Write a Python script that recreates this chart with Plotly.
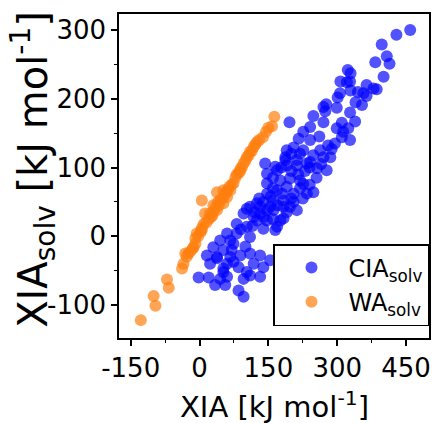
import plotly.graph_objects as go

# CIA_solv series (x = XIA, y = XIA_solv), kJ/mol
cia_x = [459, 429, 397, 408, 383, 414, 401, 323, 329, 307, 328, 321, 364, 379, 386, 306, 329, 357, 364, 301,
         354, 299, 270, 276, 274, 328, 248, 270, 196, 339, 241, 226, 299, 324, 313, 310, 328, 216, 241, 261,
         280, 288, 263, 248, 226, 190, 205, 187, 212, 241, 270, 256, 277, 143, 165, 219, 187, 147, 169, 190,
         212, 234, 176, 197, 219, 226, 147, 169, 190, 219, 234, 248, 205, 147, 161, 139, 125, 110, 132, 154,
         147, 183, 197, 212, 183, 96, 118, 103, 132, 161, 183, 147, 176, 125, 81, 103, 169, 139, 165, 60,
         81, 110, 45, 74, 30, 52, 16, 38, 23, 89, 110, 132, 154, 74, 118, 139, 103, 96, 132, 52,
         45, 60, -2, 20, 34, 56, 85, 96, 67, 52, 110, 67, 38,
         200, 215, 230, 160, 180, 200, 170, 190, 205, 225, 240, 255, 265, 285, 295, 310, 340, 345,
         155, 130, 120, 140, 160, 115, 90, 70, 85, 60, 100, 240, 200, 178, 160]
cia_y = [300, 293, 279, 262, 253, 251, 232, 242, 237, 225, 225, 224, 220, 215, 214, 208, 212, 208, 204, 202,
         191, 187, 188, 192, 182, 180, 175, 166, 166, 167, 159, 152, 157, 157, 152, 144, 140, 142, 140, 145,
         132, 127, 125, 118, 125, 125, 129, 111, 111, 108, 115, 99, 96, 106, 101, 120, 115, 91, 96, 103,
         103, 106, 81, 84, 81, 76, 77, 67, 72, 70, 62, 64, 62, 62, 52, 50, 48, 43, 43, 43,
         38, 43, 43, 38, 52, 33, 28, 40, 33, 38, 26, 23, 23, 23, 18, 14, 14, 11, 9, 4,
         4, -1, -6, -11, -16, -20, -28, -32, -40, -28, -25, -28, -35, -37, -40, -45, -52, -62, -59, -52,
         -62, -59, -60, -60, -71, -71, -79, -88, -6, -47, -57, -30, -30,
         95, 90, 95, 70, 62, 55, 45, 35, 50, 55, 75, 85, 105, 115, 135, 165, 195, 210,
         58, 55, 35, 28, 25, 15, 10, -20, -45, -40, -15, 100, 120, 100, 85]

# WA_solv series
wa_x = [163, 158, 138, 125, 118, 110, 103, 96, 89, 81, 74, 67, 60, 52, 45, 52, 38, 30, 23, 12,
        9, 5, 38, 2, -6, -9, -13, -24, -31, -35, -38, -71, -67, -100, -96, -128, -9, 5,
        20, 28, 35, 42, 48, 55, 62, 70, 78, 85, 92, 100, 107, 114, 121, 130, 145, 150,
        58, 40, 25, 15, 5, -3, -15, -20, 30, 65, 88, -28]
wa_y = [174, 160, 144, 137, 130, 123, 115, 106, 98, 90, 77, 67, 57, 67, 52, 48, 38, 45, 33, 33,
        18, 52, 64, 6, 4, -3, -16, -25, -25, -40, -47, -63, -75, -87, -101, -122, -11, 9,
        25, 30, 42, 45, 55, 60, 68, 75, 85, 92, 100, 110, 118, 124, 133, 140, 152, 158,
        64, 50, 28, 20, 12, 0, -18, -22, 36, 72, 94, -30]

# tick labels
x_ticks = [-150, 0, 150, 300, 450]
x_tick_labels = ["-150", "0", "150", "300", "450"]
y_ticks = [-100, 0, 100, 200, 300]
y_tick_labels = ["-100", "0", "100", "200", "300"]

FONT = "DejaVu Sans"

fig = go.Figure()
fig.add_trace(go.Scatter(x=cia_x, y=cia_y, mode="markers", name="CIA<sub>solv</sub>",
                         marker=dict(color="rgb(0,0,255)", size=12, opacity=0.68, line=dict(width=0))))
fig.add_trace(go.Scatter(x=wa_x, y=wa_y, mode="markers", name="WA<sub>solv</sub>",
                         marker=dict(color="#ff7f0e", size=12, opacity=0.7, line=dict(width=0))))

axis_common = dict(showgrid=False, zeroline=False, showline=True, linecolor="black", linewidth=1.5,
                   mirror=True, ticks="outside", ticklen=6, tickwidth=1.5, tickcolor="black",
                   automargin=False,
                   tickfont=dict(family=FONT, size=26, color="black"))

fig.update_xaxes(range=[-175.5, 500], tickmode="array", tickvals=x_ticks, ticktext=x_tick_labels,
                 minor=dict(tickmode="linear", tick0=-75, dtick=150, ticks="outside", ticklen=3,
                            tickwidth=1.2, tickcolor="black"),
                 **axis_common)
fig.update_yaxes(range=[-148, 323.3], tickmode="array", tickvals=y_ticks, ticktext=y_tick_labels,
                 minor=dict(tickmode="linear", tick0=-50, dtick=100, ticks="outside", ticklen=3,
                            tickwidth=1.2, tickcolor="black"),
                 **axis_common)

fig.add_annotation(text="XIA [kJ mol<sup>-1</sup>]", xref="paper", yref="paper", x=0.5, y=0,
                   xanchor="center", yanchor="middle", yshift=-67, showarrow=False,
                   font=dict(family=FONT, size=29, color="black"))
fig.add_annotation(text="XIA<sub>solv</sub> [kJ mol<sup>-1</sup>]", xref="paper", yref="paper",
                   x=0, y=0.519, xanchor="center", yanchor="middle", xshift=-86, textangle=-90,
                   showarrow=False, font=dict(family=FONT, size=40, color="black"))

fig.update_layout(
    width=433, height=423, autosize=False,
    margin=dict(l=119, r=4, t=14, b=85, autoexpand=False),
    plot_bgcolor="white", paper_bgcolor="white",
    font=dict(family=FONT, color="black"),
    legend=dict(x=1, y=0.037, xanchor="right", yanchor="bottom",
                bgcolor="white", bordercolor="black", borderwidth=1.5,
                font=dict(family=FONT, size=24, color="black"), itemwidth=64),
)

fig.write_html("out.html", config={"displayModeBar": False},
               post_script="document.body.style.margin='0';")
